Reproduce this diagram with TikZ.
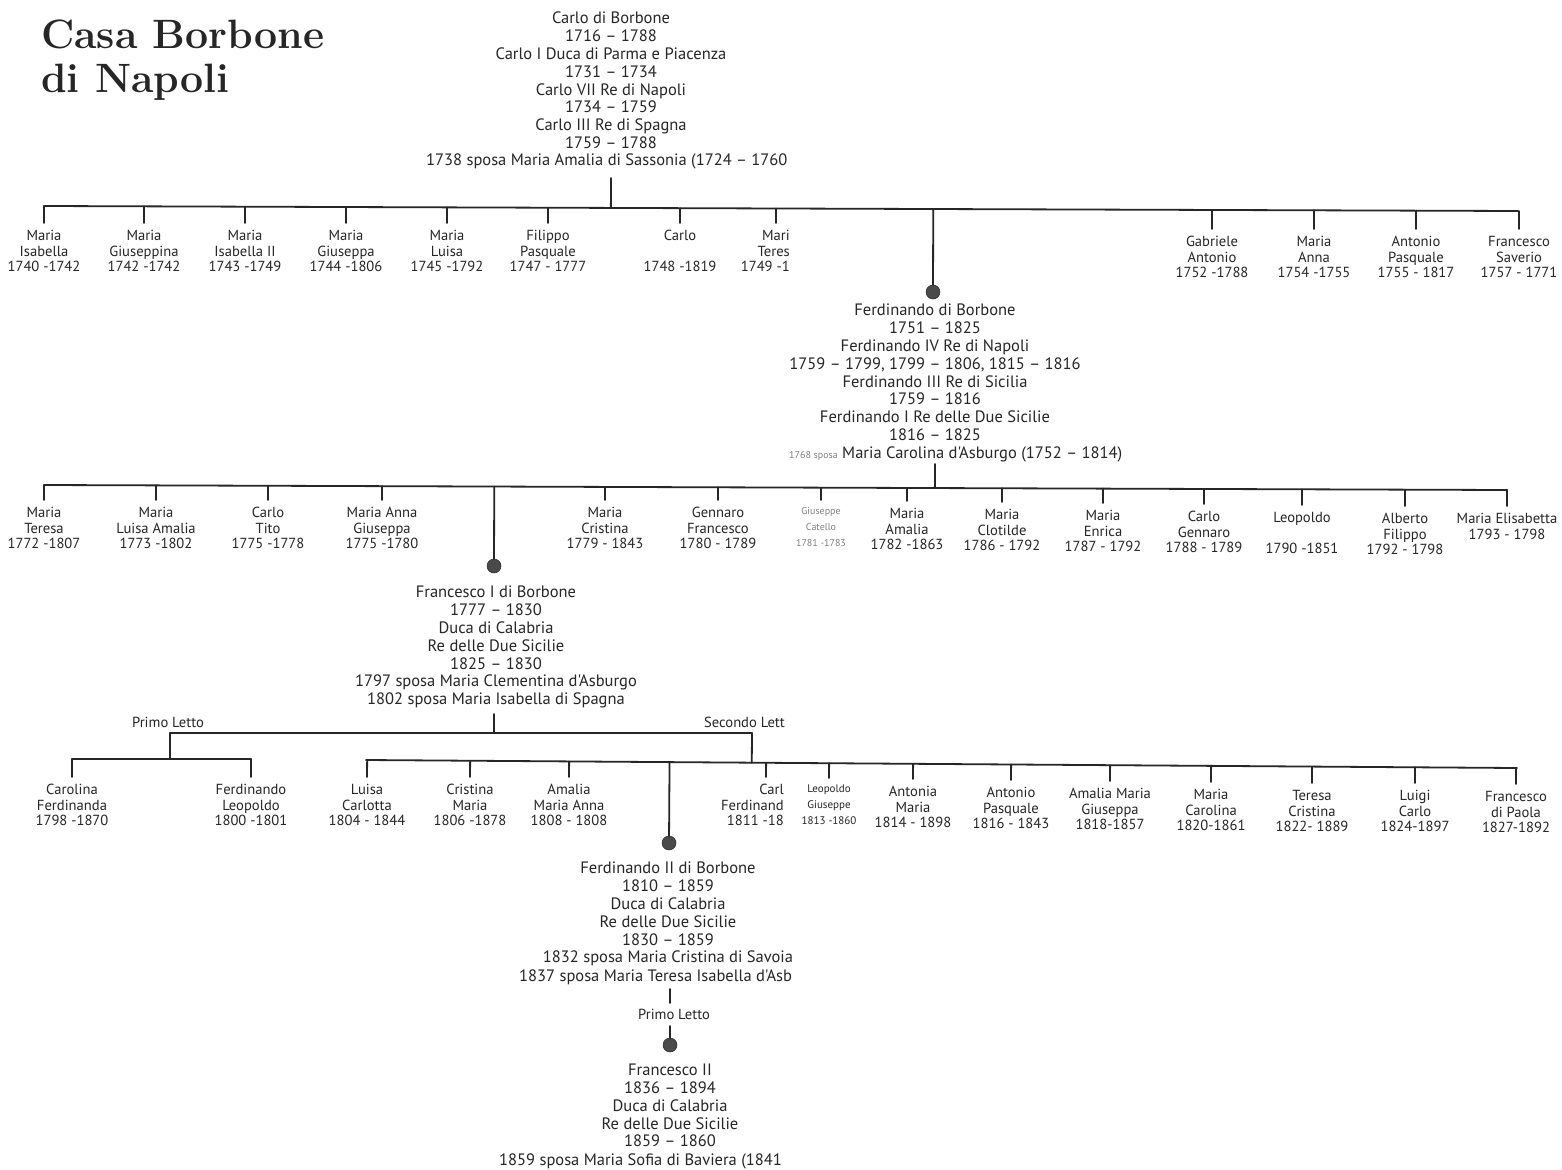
\documentclass[tikz,border=0pt]{standalone}
\usepackage{fontspec}
\usetikzlibrary{calc}
\newfontfamily\ptsans{PT Sans}
\definecolor{ink}{HTML}{262626}
\definecolor{dotc}{HTML}{4A4A4A}
\definecolor{faded}{HTML}{808080}
\begin{document}
\begin{tikzpicture}[x=1pt,y=-1pt,
  line/.style={draw=ink,line width=1.8pt,line cap=round},
  kid/.style={font=\ptsans\fontsize{14.6}{15.6}\selectfont,align=center,inner sep=0pt,anchor=north,text=ink},
  smallkid/.style={kid,font=\ptsans\fontsize{11}{15.6}\selectfont},
  tinykid/.style={kid,font=\ptsans\fontsize{10}{16}\selectfont,text=faded},
  big/.style={font=\ptsans\fontsize{16.5}{17.8}\selectfont,align=center,inner sep=0pt,anchor=north,text=ink},
  bigline/.style={font=\ptsans\fontsize{16.5}{17.8}\selectfont,inner sep=0pt,anchor=west,text=ink},
  dotn/.style={circle,fill=dotc,draw=ink,line width=0.5pt,minimum size=14pt,inner sep=0pt},
]
\useasboundingbox (0,0) rectangle (1562,1169);
\fill[white] (0,0) rectangle (1562,1169);

% title
\node[anchor=north west,align=left,inner sep=0pt,font=\fontsize{41}{43.5}\selectfont\bfseries,text=ink] (title) at (41,20) {Casa Borbone\\di Napoli};

% ---------- Carlo di Borbone ----------
\node[big] (c0) at (611,12) {Carlo di Borbone\\1716 – 1788\\Carlo I Duca di Parma e Piacenza\\1731 – 1734\\Carlo VII Re di Napoli\\1734 – 1759\\Carlo III Re di Spagna\\1759 – 1788};
\node[bigline] (c0b) at (426,161) {1738 sposa Maria Amalia di Sassonia (1724 – 1760};
\coordinate (t0) at (611,178);
\coordinate (L1) at (44,206);
\coordinate (R1) at (1518,211);
\draw[line] (L1) -- (R1);
\draw[line] (t0) -- ($(L1)!(t0)!(R1)$);

% row 1
\node[kid] (r1a) at (44,230) {Maria\\Isabella\\1740 -1742};
\node[kid] (r1b) at (144,230) {Maria\\Giuseppina\\1742 -1742};
\node[kid] (r1c) at (245,230) {Maria\\Isabella II\\1743 -1749};
\node[kid] (r1d) at (346,230) {Maria\\Giuseppa\\1744 -1806};
\node[kid] (r1e) at (447,230) {Maria\\Luisa\\1745 -1792};
\node[kid] (r1f) at (548,230) {Filippo\\Pasquale\\1747 - 1777};
\node[kid] (r1g) at (680,230) {Carlo\\~\\1748 -1819};
\node[kid,anchor=north east,align=right] (r1h) at (790,230) {Mari\\Teres\\1749 -1};
\node[kid] (r1i) at (1212,236) {Gabriele\\Antonio\\1752 -1788};
\node[kid] (r1j) at (1314,236) {Maria\\Anna\\1754 -1755};
\node[kid] (r1k) at (1416,236) {Antonio\\Pasquale\\1755 - 1817};
\node[kid] (r1l) at (1519,236) {Francesco\\Saverio\\1757 - 1771};
\foreach \n in {r1a,r1b,r1c,r1d,r1e,r1f,r1g,r1i,r1j,r1k,r1l}
  \draw[line] ($(L1)!(\n.north)!(R1)$) -- ([yshift=7pt]\n.north);
\draw[line] ($(L1)!([xshift=-14pt]r1h.north east)!(R1)$) -- ([shift={(-14pt,7pt)}]r1h.north east);

% ---------- Ferdinando di Borbone ----------
\node[dotn] (d1) at (933,292) {};
\draw[line] ($(L1)!(d1)!(R1)$) -- (d1);
\node[big] (f1) at (935,304) {Ferdinando di Borbone\\1751 – 1825\\Ferdinando IV Re di Napoli\\1759 – 1799, 1799 – 1806, 1815 – 1816\\Ferdinando III Re di Sicilia\\1759 – 1816\\Ferdinando I Re delle Due Sicilie\\1816 – 1825};
\node[bigline] (f1b) at (789,454) {{\color{faded}\fontsize{10}{12}\selectfont 1768 sposa} Maria Carolina d'Asburgo (1752 – 1814)};
\coordinate (t1) at (935,464);
\coordinate (L2) at (44,485);
\coordinate (R2) at (1507,490);
\draw[line] (L2) -- (R2);
\draw[line] (t1) -- ($(L2)!(t1)!(R2)$);

% row 2
\node[kid] (r2a) at (44,507) {Maria\\Teresa\\1772 -1807};
\node[kid] (r2b) at (156,507) {Maria\\Luisa Amalia\\1773 -1802};
\node[kid] (r2c) at (268,507) {Carlo\\Tito\\1775 -1778};
\node[kid] (r2d) at (382,507) {Maria Anna\\Giuseppa\\1775 -1780};
\node[kid] (r2e) at (605,507) {Maria\\Cristina\\1779 - 1843};
\node[kid] (r2f) at (718,507) {Gennaro\\Francesco\\1780 - 1789};
\node[tinykid] (r2g) at (821,507) {Giuseppe\\Catello\\1781 -1783};
\node[kid] (r2h) at (907,508) {Maria\\Amalia\\1782 -1863};
\node[kid] (r2i) at (1002,509) {Maria\\Clotilde\\1786 - 1792};
\node[kid] (r2j) at (1103,510) {Maria\\Enrica\\1787 - 1792};
\node[kid] (r2k) at (1204,511) {Carlo\\Gennaro\\1788 - 1789};
\node[kid] (r2l) at (1302,512) {Leopoldo\\~\\1790 -1851};
\node[kid] (r2m) at (1405,513) {Alberto\\Filippo\\1792 - 1798};
\node[kid] (r2n) at (1507,513) {Maria Elisabetta\\1793 - 1798};
\foreach \n in {r2a,r2b,r2c,r2d,r2e,r2f,r2g,r2h,r2i,r2j,r2k,r2l,r2m,r2n}
  \draw[line] ($(L2)!(\n.north)!(R2)$) -- ([yshift=7pt]\n.north);

% ---------- Francesco I ----------
\node[dotn] (d2) at (494,566) {};
\draw[line] ($(L2)!(d2)!(R2)$) -- (d2);
\node[big] (f2) at (496,586) {Francesco I di Borbone\\1777 – 1830\\Duca di Calabria\\Re delle Due Sicilie\\1825 – 1830\\1797 sposa Maria Clementina d'Asburgo\\1802 sposa Maria Isabella di Spagna};
\coordinate (t2) at (494,714);
\coordinate (p3) at (170,733);
\coordinate (s3) at (752,733);
\draw[line] (p3) -- (s3);
\draw[line] (t2) -- ($(p3)!(t2)!(s3)$);
\node[kid,anchor=center] (lp) at (168,722) {Primo Letto};
\node[kid,anchor=east] (ls) at (785,722) {Secondo Lett};

\coordinate (L4) at (72,759);
\coordinate (R4) at (251,759);
\draw[line] (L4) -- (R4);
\draw[line] (p3) -- ($(L4)!(p3)!(R4)$);
\coordinate (L5) at (366,760);
\coordinate (R5) at (1517,768);
\draw[line] (L5) -- (R5);
\draw[line] (s3) -- ($(L5)!(s3)!(R5)$);

% row 3
\node[kid] (r3a) at (72,784) {Carolina\\Ferdinanda\\1798 -1870};
\node[kid] (r3b) at (251,784) {Ferdinando\\Leopoldo\\1800 -1801};
\foreach \n in {r3a,r3b}
  \draw[line] ($(L4)!(\n.north)!(R4)$) -- ([yshift=7pt]\n.north);
\node[kid] (r3c) at (367,784) {Luisa\\Carlotta\\1804 - 1844};
\node[kid] (r3d) at (470,784) {Cristina\\Maria\\1806 -1878};
\node[kid] (r3e) at (569,784) {Amalia\\Maria Anna\\1808 - 1808};
\node[kid,anchor=north east,align=right] (r3f) at (784,784) {Carl\\Ferdinand\\1811 -18};
\node[smallkid] (r3g) at (829,785) {Leopoldo\\Giuseppe\\1813 -1860};
\node[kid] (r3h) at (913,786) {Antonia\\Maria\\1814 - 1898};
\node[kid] (r3i) at (1011,787) {Antonio\\Pasquale\\1816 - 1843};
\node[kid] (r3j) at (1110,788) {Amalia Maria\\Giuseppa\\1818-1857};
\node[kid] (r3k) at (1211,789) {Maria\\Carolina\\1820-1861};
\node[kid] (r3l) at (1312,790) {Teresa\\Cristina\\1822- 1889};
\node[kid] (r3m) at (1415,790) {Luigi\\Carlo\\1824-1897};
\node[kid] (r3n) at (1516,791) {Francesco\\di Paola\\1827-1892};
\foreach \n in {r3c,r3d,r3e,r3g,r3h,r3i,r3j,r3k,r3l,r3m,r3n}
  \draw[line] ($(L5)!(\n.north)!(R5)$) -- ([yshift=7pt]\n.north);
\draw[line] ($(L5)!([xshift=-18pt]r3f.north east)!(R5)$) -- ([shift={(-18pt,7pt)}]r3f.north east);

% ---------- Ferdinando II ----------
\node[dotn] (d3) at (669,843) {};
\draw[line] ($(L5)!(d3)!(R5)$) -- (d3);
\node[big] (f3) at (668,862) {Ferdinando II di Borbone\\1810 – 1859\\Duca di Calabria\\Re delle Due Sicilie\\1830 – 1859\\1832 sposa Maria Cristina di Savoia};
\node[bigline] (f3b) at (519,977) {1837 sposa Maria Teresa Isabella d'Asb};
\coordinate (t3a) at (670,989);
\coordinate (t3b) at (670,1003);
\draw[line] (t3a) -- (t3b);
\node[kid,anchor=center] (lp2) at (674,1014) {Primo Letto};
\coordinate (t3c) at (670,1026);
\node[dotn] (d4) at (670,1045) {};
\draw[line] (t3c) -- (d4);

% ---------- Francesco II ----------
\node[big] (f4) at (670,1064) {Francesco II\\1836 – 1894\\Duca di Calabria\\Re delle Due Sicilie\\1859 – 1860};
\node[bigline] (f4b) at (499,1161) {1859 sposa Maria Sofia di Baviera (1841};
\end{tikzpicture}
\end{document}
